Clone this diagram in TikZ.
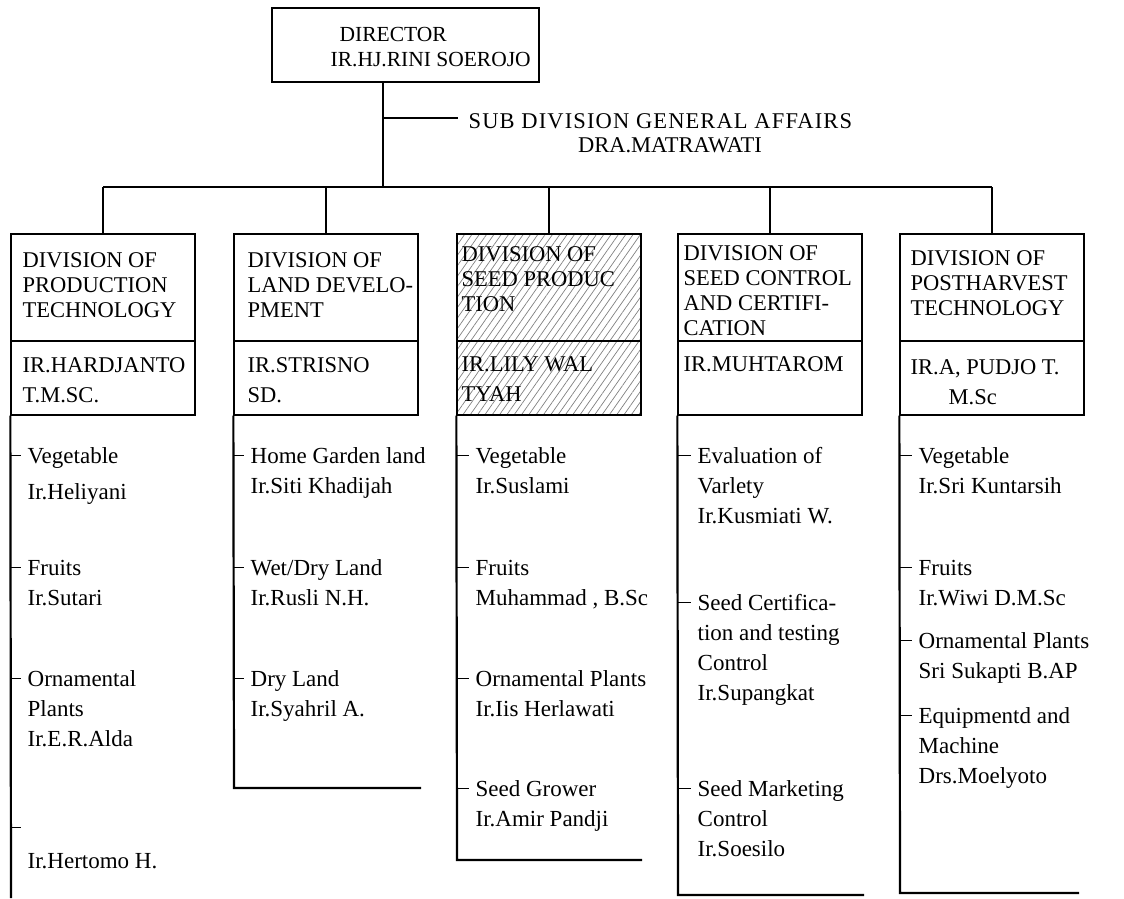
\documentclass[tikz,border=0pt]{standalone}
\usepackage{fontspec}
\setmainfont{Liberation Serif}
\usetikzlibrary{patterns.meta}

% one sub-unit of a division: name, line x, text x, first-line y, text
\newcommand\orgitem[5]{%
  \coordinate (#1t) at ({#2},{#4});
  \node[itemtxt] (#1) at ({#3},{#4-13.4}) {\strut #5};
  \draw[tick] (#1t) -- (#1t -| #1.west);
}

\begin{document}
\begin{tikzpicture}[x=1pt,y=-1pt,line width=1.3pt,
  unitbox/.style={draw, minimum width=184pt, inner sep=0pt},
  headbox/.style={unitbox, minimum height=107pt},
  namebox/.style={unitbox, minimum height=74pt},
  hatched/.style={pattern={Lines[angle=55,distance=6pt,line width=0.7pt]}, pattern color=black!50},
  headtxt/.style={anchor=north west, align=left, inner sep=0pt, font=\fontsize{22.5}{25}\selectfont},
  nametxt/.style={anchor=north west, align=left, inner sep=0pt, font=\fontsize{22.5}{30}\selectfont},
  itemtxt/.style={anchor=north west, align=left, inner sep=0pt, font=\fontsize{23}{30}\selectfont},
  trunk/.style={line width=2.2pt},
  tick/.style={line width=1pt, shorten >=6pt},
]
\useasboundingbox (0,0) rectangle (1124,898);

% director and general affairs
\node[draw, minimum width=267pt, minimum height=74pt, inner sep=0pt] (dir) at (405.5,45) {};
\node[anchor=north west, align=left, inner sep=0pt, font=\fontsize{21.5}{25}\selectfont] (dirt) at (330,23)
  {\strut\hspace*{9pt}DIRECTOR\\IR.HJ.RINI SOEROJO};
\coordinate (bus) at (383,187);
\draw[trunk] (dir.south -| bus) -- (bus);
\node[anchor=west, inner sep=0pt, font=\fontsize{22.5}{25}\selectfont\addfontfeatures{LetterSpace=5}] (sub) at (468,121)
  {SUB DIVISION GENERAL AFFAIRS};
\node[inner sep=0pt, font=\fontsize{22.5}{25}\selectfont] (subn) at (670,145) {DRA.MATRAWATI};
\coordinate (br) at (383,118);
\draw[shorten >=10pt] (br) -- (br -| sub.west);

% division boxes
\node[headbox] (h1) at (103,287.5) {};
\node[namebox] (n1) at (103,378) {};
\node[headbox] (h2) at (326,287.5) {};
\node[namebox] (n2) at (326,378) {};
\node[headbox, hatched] (h3) at (549,287.5) {};
\node[namebox, hatched] (n3) at (549,378) {};
\node[headbox] (h4) at (770,287.5) {};
\node[namebox] (n4) at (770,378) {};
\node[headbox] (h5) at (992,287.5) {};
\node[namebox] (n5) at (992,378) {};

\node[headtxt] (h1t) at (22,249) {\strut DIVISION OF\\PRODUCTION\\TECHNOLOGY};
\node[nametxt] (n1t) at (22,350.5) {\strut IR.HARDJANTO\\T.M.SC.};
\node[headtxt] (h2t) at (247,249) {\strut DIVISION OF\\LAND DEVELO-\\PMENT};
\node[nametxt] (n2t) at (247,350.5) {\strut IR.STRISNO\\SD.};
\node[headtxt] (h3t) at (461,243) {\strut DIVISION OF\\SEED PRODUC\\TION};
\node[nametxt] (n3t) at (461,350) {\strut IR.LILY WAL\\TYAH};
\node[headtxt] (h4t) at (683,242) {\strut DIVISION OF\\SEED CONTROL\\AND CERTIFI-\\CATION};
\node[nametxt] (n4t) at (683,350) {\strut IR.MUHTAROM};
\node[headtxt] (h5t) at (910,247) {\strut DIVISION OF\\POSTHARVEST\\TECHNOLOGY};
\node[nametxt] (n5t) at (910,352.5) {\strut IR.A, PUDJO T.\\\hspace*{38pt}M.Sc};

% bus and drops
\draw[trunk] (h1.north |- bus) -- (h5.north |- bus);
\foreach \k in {1,...,5} \draw[trunk] (h\k.north |- bus) -- (h\k.north);

% column lines below the boxes
\coordinate (e1) at (11,898);
\coordinate (e2) at (234,788);  \coordinate (f2) at (421,788);
\coordinate (e3) at (457,860);  \coordinate (f3) at (642,860);
\coordinate (e4) at (678,895);  \coordinate (f4) at (864,895);
\coordinate (e5) at (900,893);  \coordinate (f5) at (1079,893);
\draw[trunk] (n1.south west) -- (e1);
\draw[trunk] (n2.south west) -- (e2) -- (f2);
\draw[trunk] (n3.south west) -- (e3) -- (f3);
\draw[trunk] (n4.south west) -- (e4) -- (f4);
\draw[trunk] (n5.south west) -- (e5) -- (f5);

% production technology
\orgitem{a1}{11}{27}{455}{Vegetable\\[6pt]Ir.Heliyani}
\orgitem{a2}{11}{27}{567}{Fruits\\Ir.Sutari}
\orgitem{a3}{11}{27}{678}{Ornamental\\Plants\\Ir.E.R.Alda}
\orgitem{a4}{11}{27}{827}{\\[3pt]Ir.Hertomo H.}

% land development
\orgitem{b1}{234}{250}{455}{Home Garden land\\Ir.Siti Khadijah}
\orgitem{b2}{234}{250}{567}{Wet/Dry Land\\Ir.Rusli N.H.}
\orgitem{b3}{234}{250}{678}{Dry Land\\Ir.Syahril A.}

% seed production
\orgitem{c1}{457}{475}{455}{Vegetable\\Ir.Suslami}
\orgitem{c2}{457}{475}{567}{Fruits\\Muhammad , B.Sc}
\orgitem{c3}{457}{475}{678}{Ornamental Plants\\Ir.Iis Herlawati}
\orgitem{c4}{457}{475}{788}{Seed Grower\\Ir.Amir Pandji}

% seed control and certification
\orgitem{d1}{678}{697}{455}{Evaluation of\\Varlety\\Ir.Kusmiati W.}
\orgitem{d2}{678}{697}{602}{Seed Certifica-\\tion and testing\\Control\\Ir.Supangkat}
\orgitem{d3}{678}{697}{788}{Seed Marketing\\Control\\Ir.Soesilo}

% postharvest technology
\orgitem{g1}{900}{918}{455}{Vegetable\\Ir.Sri Kuntarsih}
\orgitem{g2}{900}{918}{567}{Fruits\\Ir.Wiwi D.M.Sc}
\orgitem{g3}{900}{918}{640}{Ornamental Plants\\Sri Sukapti B.AP}
\orgitem{g4}{900}{918}{715}{Equipmentd and\\Machine\\Drs.Moelyoto}
\end{tikzpicture}
\end{document}
